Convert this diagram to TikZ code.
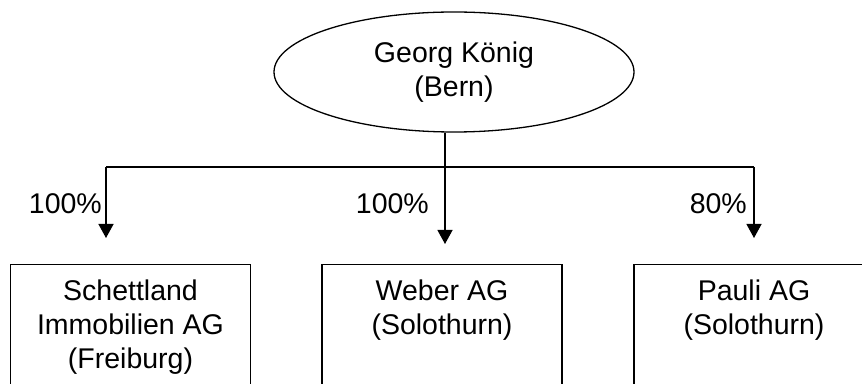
\documentclass[tikz,border=0pt]{standalone}
\usepackage{fontspec}
\setmainfont{Liberation Sans}
\usetikzlibrary{arrows.meta, shapes.geometric, positioning}

\tikzset{
  owner/.style={draw, ellipse, line width=1.3pt, minimum width=360pt, minimum height=120pt, inner sep=0pt, align=center},
  firm/.style={draw, rectangle, line width=1.3pt, anchor=north, minimum width=240pt, minimum height=150pt},
  firmtext/.style={anchor=north, align=center, inner sep=0pt},
  share/.style={anchor=base east, inner sep=0pt},
  own/.style={line width=1.3pt, -{Triangle[length=14pt, width=15pt]}},
}

\begin{document}
\begin{tikzpicture}[x=1pt, y=1pt, font=\fontsize{28.5}{34}\selectfont]
        \clip (0,0) rectangle (862,383);

        \node[owner] (koenig) at (454,311) {Georg König\\(Bern)};

        \coordinate (split) at (445,216);
        \coordinate (busS) at (106,216);
        \coordinate (busP) at (754,216);
        \coordinate (tipS) at (106,145);
        \coordinate (tipW) at (445,139);
        \coordinate (tipP) at (754,145);

        \draw [line width=1.3pt] (koenig.south -| split) -- (split);
        \draw [line width=1.3pt] (busS) -- (busP);
        \draw [own] (busS) -- (tipS);
        \draw [own] (split) -- (tipW);
        \draw [own] (busP) -- (tipP);

        \node[share] (shareS) at (102,169) {100\%};
        \node[share] (shareW) at (429,169) {100\%};
        \node[share] (shareP) at (747,169) {80\%};

        \node[firm] (schettland) at (130.5,119) {};
        \node[firm] (weber) at (442,119) {};
        \node[firm] (pauli) at (754,119) {};

        \node[firmtext, below=16pt of schettland.north] (schettlandname) {Schettland\\Immobilien AG\\(Freiburg)};
        \node[firmtext, below=16pt of weber.north] (webername) {Weber AG\\(Solothurn)};
        \node[firmtext, below=16pt of pauli.north] (pauliname) {Pauli AG\\(Solothurn)};
    \end{tikzpicture}
\end{document}
